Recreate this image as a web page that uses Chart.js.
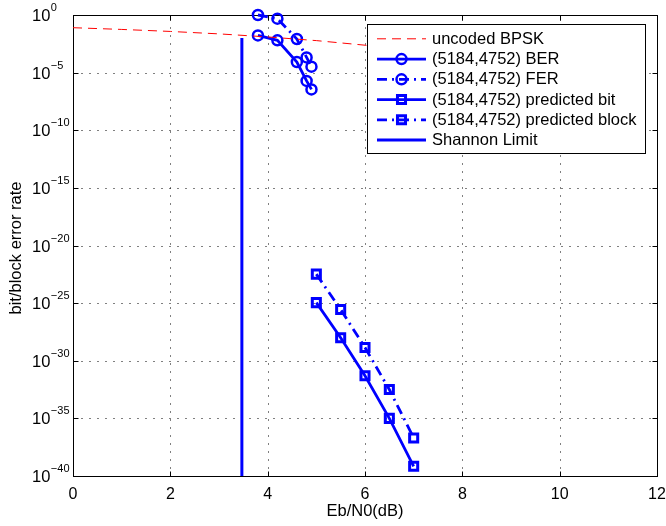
<!DOCTYPE html>
<html>
<head>
<meta charset="utf-8">
<script src="https://cdn.jsdelivr.net/npm/chart.js@4/dist/chart.umd.min.js"></script>
<style>html,body{margin:0;padding:0;background:#fff;}canvas{display:block;}</style>
</head>
<body>
<canvas id="c" width="666" height="526"></canvas>
<script>
// ---- data ----
const bpskEbN0 = [0, 1, 2, 3, 4, 5, 6, 7, 8, 9, 10];
const bpskBER = [7.9e-2, 5.6e-2, 3.75e-2, 2.3e-2, 1.25e-2, 6.0e-3, 2.4e-3, 7.7e-4, 1.9e-4, 3.4e-5, 3.9e-6];
const codedEbN0 = [3.8, 4.2, 4.6, 4.8, 4.9];
const codedBER = [1.7e-2, 6.3e-3, 8.3e-5, 1.9e-6, 3.5e-7];
const codedFER = [1.0, 0.48, 8.3e-3, 2.1e-4, 3.3e-5];
const predEbN0 = [5, 5.5, 6, 6.5, 7];
const predBit = [1.1e-25, 1.0e-28, 5e-32, 1.0e-35, 7e-40];
const predBlock = [3.3e-23, 2.8e-26, 1.4e-29, 3.2e-33, 2e-37];
const shannonEbN0 = [3.47, 3.47];
const shannonRate = [1e-40, 1e-2];
const xTickValues = [0, 2, 4, 6, 8, 10, 12];
const yTickExponents = [0, -5, -10, -15, -20, -25, -30, -35, -40];
const seriesLabels = ['uncoded BPSK', '(5184,4752) BER', '(5184,4752) FER',
  '(5184,4752) predicted bit', '(5184,4752) predicted block', 'Shannon Limit'];
const xTitle = 'Eb/N0(dB)';
const yTitle = 'bit/block error rate';

const toXY = (xs, ys) => xs.map((v, i) => ({x: v, y: ys[i]}));
const FONT = '"Liberation Sans", Arial, Helvetica, sans-serif';
const BLUE = '#0000ff';
const DASHDOT = [10, 5, 2, 5];

const datasets = [
  {label: seriesLabels[0], data: toXY(bpskEbN0, bpskBER), borderColor: '#ff0000', borderWidth: 1,
   borderDash: [9, 6], pointRadius: 0, mk: null},
  {label: seriesLabels[1], data: toXY(codedEbN0, codedBER), borderColor: BLUE, borderWidth: 2.8,
   pointStyle: 'circle', pointRadius: 5, pointBorderWidth: 2.5, mk: 'circle'},
  {label: seriesLabels[2], data: toXY(codedEbN0, codedFER), borderColor: BLUE, borderWidth: 2.8,
   borderDash: DASHDOT, pointStyle: 'circle', pointRadius: 5, pointBorderWidth: 2.5, mk: 'circle'},
  {label: seriesLabels[3], data: toXY(predEbN0, predBit), borderColor: BLUE, borderWidth: 2.8,
   pointStyle: 'rect', pointRadius: 5.7, pointBorderWidth: 3, mk: 'rect'},
  {label: seriesLabels[4], data: toXY(predEbN0, predBlock), borderColor: BLUE, borderWidth: 2.8,
   borderDash: DASHDOT, pointStyle: 'rect', pointRadius: 5.7, pointBorderWidth: 3, mk: 'rect'},
  {label: seriesLabels[5], data: toXY(shannonEbN0, shannonRate), borderColor: BLUE, borderWidth: 3,
   pointRadius: 0, mk: null}
].map(d => Object.assign({
  backgroundColor: 'rgba(0,0,0,0)', pointBackgroundColor: 'rgba(0,0,0,0)',
  pointBorderColor: d.borderColor, pointHoverRadius: d.pointRadius || 0,
  fill: false, tension: 0, clip: false, showLine: true
}, d));

function seg(ctx, x1, y1, x2, y2) { ctx.beginPath(); ctx.moveTo(x1, y1); ctx.lineTo(x2, y2); ctx.stroke(); }

const matlabFrame = {
  id: 'matlabFrame',
  beforeDatasetsDraw(chart) {
    const {ctx, chartArea: a, scales: {x, y}} = chart;
    const L = Math.round(a.left) + 0.5, R = Math.round(a.right) + 0.5;
    const T = Math.round(a.top) + 0.5, B = Math.round(a.bottom) + 0.5;
    ctx.save();
    ctx.strokeStyle = '#000';
    ctx.lineWidth = 1;
    // dotted grid
    ctx.setLineDash([1, 7]);
    xTickValues.forEach(v => {
      const px = Math.round(x.getPixelForValue(v)) + 0.5;
      if (px > L + 1 && px < R - 1) seg(ctx, px, B, px, T);
    });
    yTickExponents.forEach(e => {
      const py = Math.round(y.getPixelForValue(Math.pow(10, e))) + 0.5;
      if (py > T + 1 && py < B - 1) seg(ctx, L, py, R, py);
    });
    ctx.setLineDash([]);
    // box
    ctx.strokeRect(L, T, R - L, B - T);
    // inward ticks
    const tk = 5;
    xTickValues.forEach(v => {
      const px = Math.round(x.getPixelForValue(v)) + 0.5;
      seg(ctx, px, B, px, B - tk); seg(ctx, px, T, px, T + tk);
    });
    yTickExponents.forEach(e => {
      const py = Math.round(y.getPixelForValue(Math.pow(10, e))) + 0.5;
      seg(ctx, L, py, L + tk, py); seg(ctx, R, py, R - tk, py);
    });
    // tick labels
    ctx.fillStyle = '#000';
    ctx.font = '16px ' + FONT;
    ctx.textAlign = 'center';
    ctx.textBaseline = 'alphabetic';
    xTickValues.forEach(v => {
      ctx.fillText(String(v), x.getPixelForValue(v), 499);
    });
    yTickExponents.forEach(e => {
      const py = y.getPixelForValue(Math.pow(10, e));
      ctx.textAlign = 'left';
      ctx.font = '16.5px ' + FONT;
      ctx.fillText('10', 32, py + 6);
      const w = ctx.measureText('10').width;
      ctx.font = '11px ' + FONT;
      ctx.fillText(e < 0 ? '\u2212' + (-e) : String(e), 32 + w + 0.5, py - 4);
    });
    // axis titles
    ctx.font = '16.5px ' + FONT;
    ctx.textAlign = 'center';
    ctx.fillText(xTitle, (a.left + a.right) / 2, 516);
    ctx.save();
    ctx.translate(20.5, 248);
    ctx.rotate(-Math.PI / 2);
    ctx.fillText(yTitle, 0, 0);
    ctx.restore();
    ctx.restore();
  },
  afterDatasetsDraw(chart) {
    const ctx = chart.ctx;
    const bx = 367.5, by = 24.5, bw = 278, bh = 129;
    ctx.save();
    ctx.fillStyle = '#fff';
    ctx.fillRect(bx, by, bw, bh);
    ctx.strokeStyle = '#000';
    ctx.lineWidth = 1;
    ctx.setLineDash([]);
    ctx.strokeRect(bx, by, bw, bh);
    const x1 = 377, x2 = 426, xm = 401.5;
    chart.data.datasets.forEach((d, i) => {
      const yy = 38.8 + i * 20.25;
      ctx.strokeStyle = d.borderColor;
      ctx.lineWidth = d.borderWidth;
      ctx.setLineDash(d.borderDash || []);
      seg(ctx, x1, yy, x2, yy);
      ctx.setLineDash([]);
      if (d.mk) {
        ctx.lineWidth = d.pointBorderWidth;
        ctx.beginPath();
        if (d.mk === 'circle') ctx.arc(xm, yy, d.pointRadius, 0, Math.PI * 2);
        else { const s = Math.SQRT1_2 * d.pointRadius; ctx.rect(xm - s, yy - s, 2 * s, 2 * s); }
        ctx.stroke();
      }
      ctx.fillStyle = '#000';
      ctx.font = '16.5px ' + FONT;
      ctx.textAlign = 'left';
      ctx.textBaseline = 'middle';
      ctx.fillText(d.label, 432, yy + 0.5);
    });
    ctx.restore();
  }
};

new Chart(document.getElementById('c'), {
  type: 'line',
  data: {datasets},
  options: {
    responsive: false,
    animation: false,
    events: [],
    layout: {padding: {left: 73, top: 15, right: 9, bottom: 50}},
    plugins: {legend: {display: false}, tooltip: {enabled: false}, title: {display: false}},
    scales: {
      x: {type: 'linear', min: 0, max: 12,
          ticks: {display: false}, grid: {display: false}, border: {display: false},
          afterFit: s => { s.height = 0; }},
      y: {type: 'logarithmic', min: 1e-40, max: 1,
          ticks: {display: false}, grid: {display: false}, border: {display: false},
          afterFit: s => { s.width = 0; }}
    }
  },
  plugins: [matlabFrame]
});
</script>
</body>
</html>
